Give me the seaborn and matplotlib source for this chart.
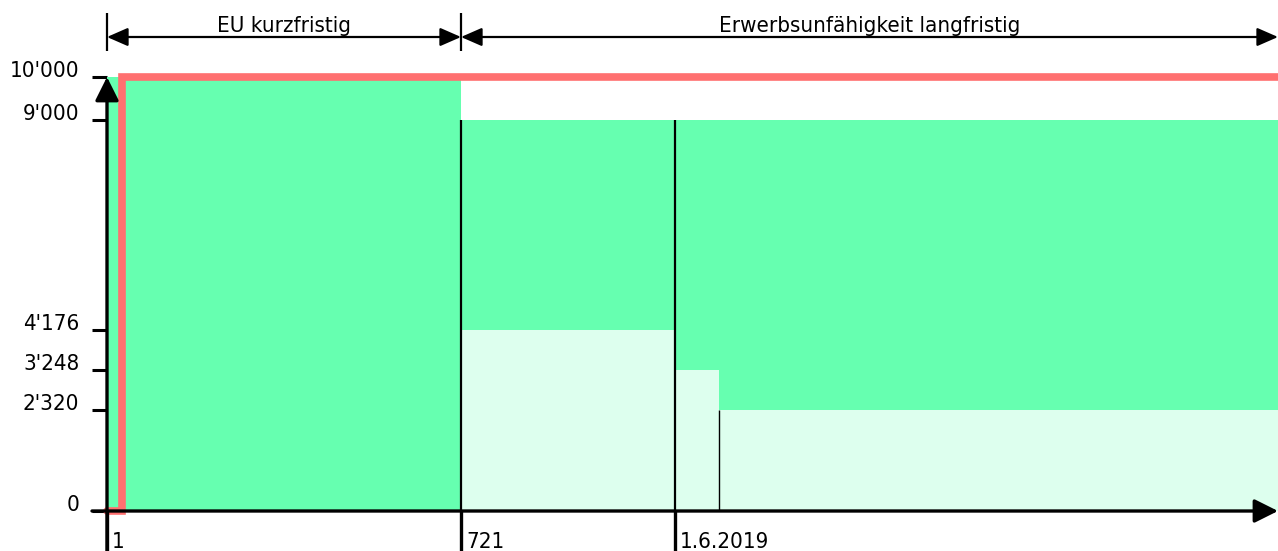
import matplotlib
matplotlib.use("Agg")
import matplotlib.pyplot as plt
import matplotlib.transforms as mtransforms
import seaborn as sns

# ---- data ----
seg_start = [0, 354, 568, 612]
seg_end = [354, 568, 612, 1171]
seg_upper = [10000, 9000, 9000, 9000]
seg_lower = [0, 4176, 3248, 2320]          # boundary between light and dark fill
red_x = [0, 15, 15, 1171]
red_y = [0, 0, 10000, 10000]
ytick_vals = [0, 2320, 3248, 4176, 9000, 10000]
ytick_labels = ["0", "2'320", "3'248", "4'176", "9'000", "10'000"]
xtick_pos = [0, 354, 568]
xtick_labels = ["1", "721", "1.6.2019"]
phase_bounds = [(0, 354), (354, 1171)]
phase_labels = ["EU kurzfristig", "Erwerbsunfähigkeit langfristig"]

DARK = "#66FFB0"
LIGHT = "#DDFFEE"
RED = "#FF7070"

sns.set_theme(style="white")
plt.rcParams["font.family"] = ["DejaVu Sans"]
plt.rcParams["font.stretch"] = "condensed"
plt.rcParams["font.size"] = 16

FS = 16

W, H = 1278, 551
fig = plt.figure(figsize=(W / 100, H / 100), dpi=100)
ax = fig.add_axes([107 / W, 40 / H, 1171 / W, 434 / H])
ax.set_xlim(0, 1171)
ax.set_ylim(0, 10000)
for s in ax.spines.values():
    s.set_visible(False)

py = 10000 / 434.0  # data units per pixel (y)

widths = [e - s for s, e in zip(seg_start, seg_end)]
ax.bar(seg_start, seg_lower, width=widths, align="edge", color=LIGHT, linewidth=0, zorder=1)
ax.bar(seg_start, [u - l for u, l in zip(seg_upper, seg_lower)], bottom=seg_lower,
       width=widths, align="edge", color=DARK, linewidth=0, zorder=1)

# red step line
ax.plot(red_x, red_y, color=RED, lw=5.5, solid_joinstyle="miter", zorder=3, clip_on=False)

# vertical separators
ax.vlines([seg_start[1], seg_start[2]], 0, 9000, color="black", lw=1.6, zorder=4)
ax.vlines([seg_start[3]], 0, seg_lower[3], color="black", lw=1.0, zorder=4)
ax.vlines([0, seg_start[1], seg_start[2]], -40 * py, 0, color="black", lw=2.4, zorder=4, clip_on=False)

# axes with arrows
axis_arrow = dict(arrowstyle="-|>,head_length=0.9,head_width=0.45", lw=2.4, color="black",
                  mutation_scale=16, shrinkA=0, shrinkB=0)
ax.annotate("", xy=(0, 10000), xytext=(0, -40 * py), arrowprops=axis_arrow,
            zorder=5, annotation_clip=False)
ax.annotate("", xy=(1171, 0), xytext=(-15, 0), arrowprops=axis_arrow,
            zorder=5, annotation_clip=False)

# y ticks
ax.set_yticks(ytick_vals)
ax.set_yticklabels(ytick_labels)
ax.tick_params(axis="y", left=True, length=11, width=2.2, color="black", pad=9, labelsize=FS,
               labelcolor="black")
for lbl in ax.get_yticklabels():
    lbl.set_va("baseline")
ax.set_xticks([])

# x labels
tr = mtransforms.offset_copy(ax.transData, fig=fig, x=5, y=-21, units="dots")
for xp, lab in zip(xtick_pos, xtick_labels):
    ax.text(xp, 0, lab, transform=tr, ha="left", va="top", fontsize=FS, color="black")

# phase dimension arrows
y_dim = (511 - 37) * py
for (a, b), lab in zip(phase_bounds, phase_labels):
    ax.annotate("", xy=(b, y_dim), xytext=(a, y_dim),
                arrowprops=dict(arrowstyle="<|-|>,head_length=0.8,head_width=0.35", lw=1.6, color="black",
                                mutation_scale=16, shrinkA=0, shrinkB=0), annotation_clip=False)
    ax.text((a + b) / 2, (511 - 26) * py, lab, ha="center", va="center", fontsize=FS, color="black",
            clip_on=False)
ax.vlines([0, 354], (511 - 51) * py, (511 - 13) * py, color="black", lw=1.6, clip_on=False)

fig.savefig("out.png", dpi=100)
